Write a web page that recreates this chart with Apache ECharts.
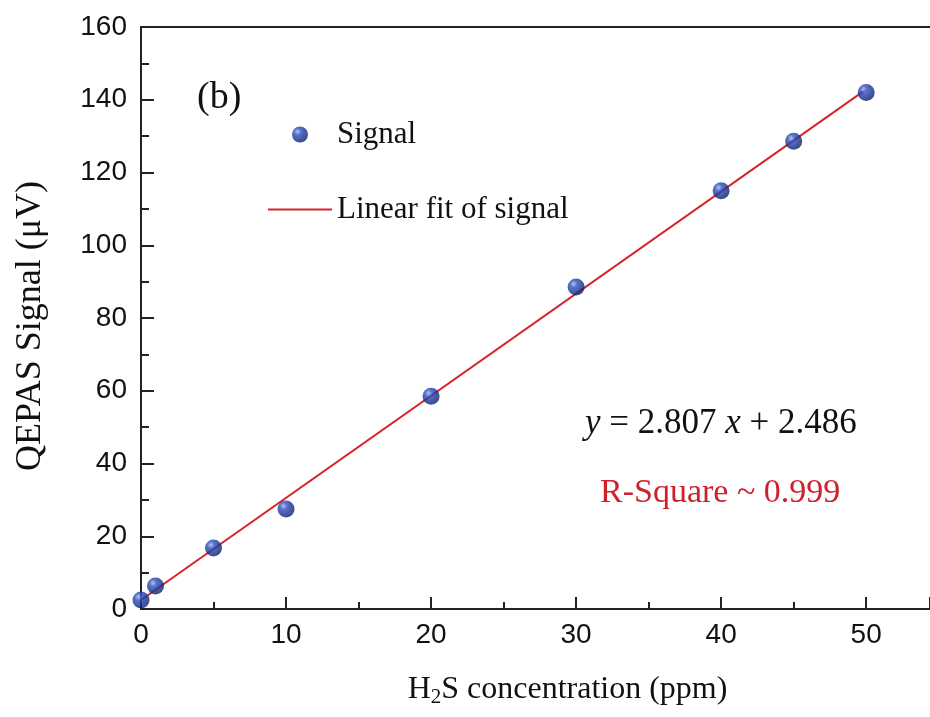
<!DOCTYPE html>
<html>
<head>
<meta charset="utf-8">
<script src="https://cdn.jsdelivr.net/npm/echarts@6/dist/echarts.min.js"></script>
<style>
html,body{margin:0;padding:0;background:#fff;}
#chart{width:930px;height:717px;}
</style>
</head>
<body>
<div id="chart"></div>
<script>
// Data
var concentrations = [0, 1, 5, 10, 20, 30, 40, 45, 50];
var signalValues = [2.5, 6.3, 16.8, 27.5, 58.5, 88.5, 115, 128.6, 142];
var fitX = [0, 50];
var fitY = [2.486, 142.836];
var xTicks = [0, 10, 20, 30, 40, 50];
var yTicks = [0, 20, 40, 60, 80, 100, 120, 140, 160];

var signalData = concentrations.map(function (c, i) { return [c, signalValues[i]]; });
var fitData = fitX.map(function (c, i) { return [c, fitY[i]]; });

var sphere = new echarts.graphic.RadialGradient(0.35, 0.32, 0.72, [
  { offset: 0, color: '#9fb2f5' },
  { offset: 0.3, color: '#2a4cba' },
  { offset: 1, color: '#081c68' }
]);

var chart = echarts.init(document.getElementById('chart'), null, { renderer: 'canvas' });
var sans = 'Liberation Sans, Arial, sans-serif';
var serif = 'Liberation Serif, Times New Roman, serif';

chart.setOption({
  backgroundColor: '#ffffff',
  animation: false,
  grid: { left: 141, top: 27, right: 0, bottom: 108 },
  legend: {
    orient: 'vertical',
    left: 263,
    top: 114,
    itemWidth: 64,
    itemHeight: 16,
    itemGap: 44,
    textStyle: { fontFamily: serif, fontSize: 31, color: '#111' },
    data: [
      { name: 'Signal', icon: 'circle' },
      { name: 'Linear fit of signal', icon: 'path://M0,0 M64,16 M0,7 L64,7 L64,9 L0,9 Z', itemStyle: { color: '#d8232a' } }
    ]
  },
  xAxis: [{
    type: 'value',
    min: 0,
    max: 54.4,
    interval: 10,
    name: '{n|H}{s|2}{n|S concentration (ppm)}',
    nameLocation: 'middle',
    nameGap: 62,
    nameTextStyle: {
      padding: [0, 0, 0, 64],
      rich: {
        n: { fontFamily: serif, fontSize: 32, color: '#111' },
        s: { fontFamily: serif, fontSize: 21, color: '#111', verticalAlign: 'bottom', padding: [16, 0, 0, 0] }
      }
    },
    axisLine: { show: true, onZero: false, lineStyle: { color: '#222', width: 2 } },
    axisTick: { show: true, inside: true, length: 12, lineStyle: { color: '#222', width: 2 } },
    minorTick: { show: true, splitNumber: 2, length: 7, lineStyle: { color: '#222', width: 2 } },
    splitLine: { show: false },
    axisLabel: { fontFamily: sans, fontSize: 28, color: '#111', margin: 12, showMaxLabel: false }
  }, {
    type: 'value',
    position: 'top',
    min: 0,
    max: 54.4,
    axisLine: { show: true, onZero: false, lineStyle: { color: '#222', width: 2 } },
    axisTick: { show: false },
    axisLabel: { show: false },
    splitLine: { show: false }
  }],
  yAxis: {
    type: 'value',
    min: 0,
    max: 160,
    interval: 20,
    name: 'QEPAS Signal (\u03bcV)',
    nameLocation: 'middle',
    nameGap: 92,
    nameTextStyle: { fontFamily: serif, fontSize: 36, color: '#111', padding: [0, 16, 0, 0] },
    axisLine: { show: true, onZero: false, lineStyle: { color: '#222', width: 2 } },
    axisTick: { show: true, inside: true, length: 13, lineStyle: { color: '#222', width: 2 } },
    minorTick: { show: true, splitNumber: 2, length: 8, lineStyle: { color: '#222', width: 2 } },
    splitLine: { show: false },
    axisLabel: { fontFamily: sans, fontSize: 28, color: '#111', margin: 14 }
  },
  graphic: [
    { type: 'text', left: 197, top: 79, style: { text: '(b)', font: '38px ' + serif, fill: '#111' } },
    {
      type: 'text', left: 585, top: 406,
      style: {
        text: '{i|y} = 2.807 {i|x} + 2.486',
        font: '35px ' + serif,
        fill: '#111',
        rich: { i: { fontStyle: 'italic', fontFamily: serif, fontSize: 35, fill: '#111' } }
      }
    },
    { type: 'text', left: 600, top: 476, style: { text: 'R-Square ~ 0.999', font: '34px ' + serif, fill: '#d0202c' } }
  ],
  series: [
    {
      name: 'Linear fit of signal',
      type: 'line',
      data: fitData,
      symbol: 'none',
      lineStyle: { color: '#d8232a', width: 2 },
      itemStyle: { color: '#d8232a' },
      z: 2
    },
    {
      name: 'Signal',
      type: 'scatter',
      data: signalData,
      symbol: 'circle',
      symbolSize: 17,
      itemStyle: { color: sphere },
      z: 3
    }
  ]
});
</script>
</body>
</html>
